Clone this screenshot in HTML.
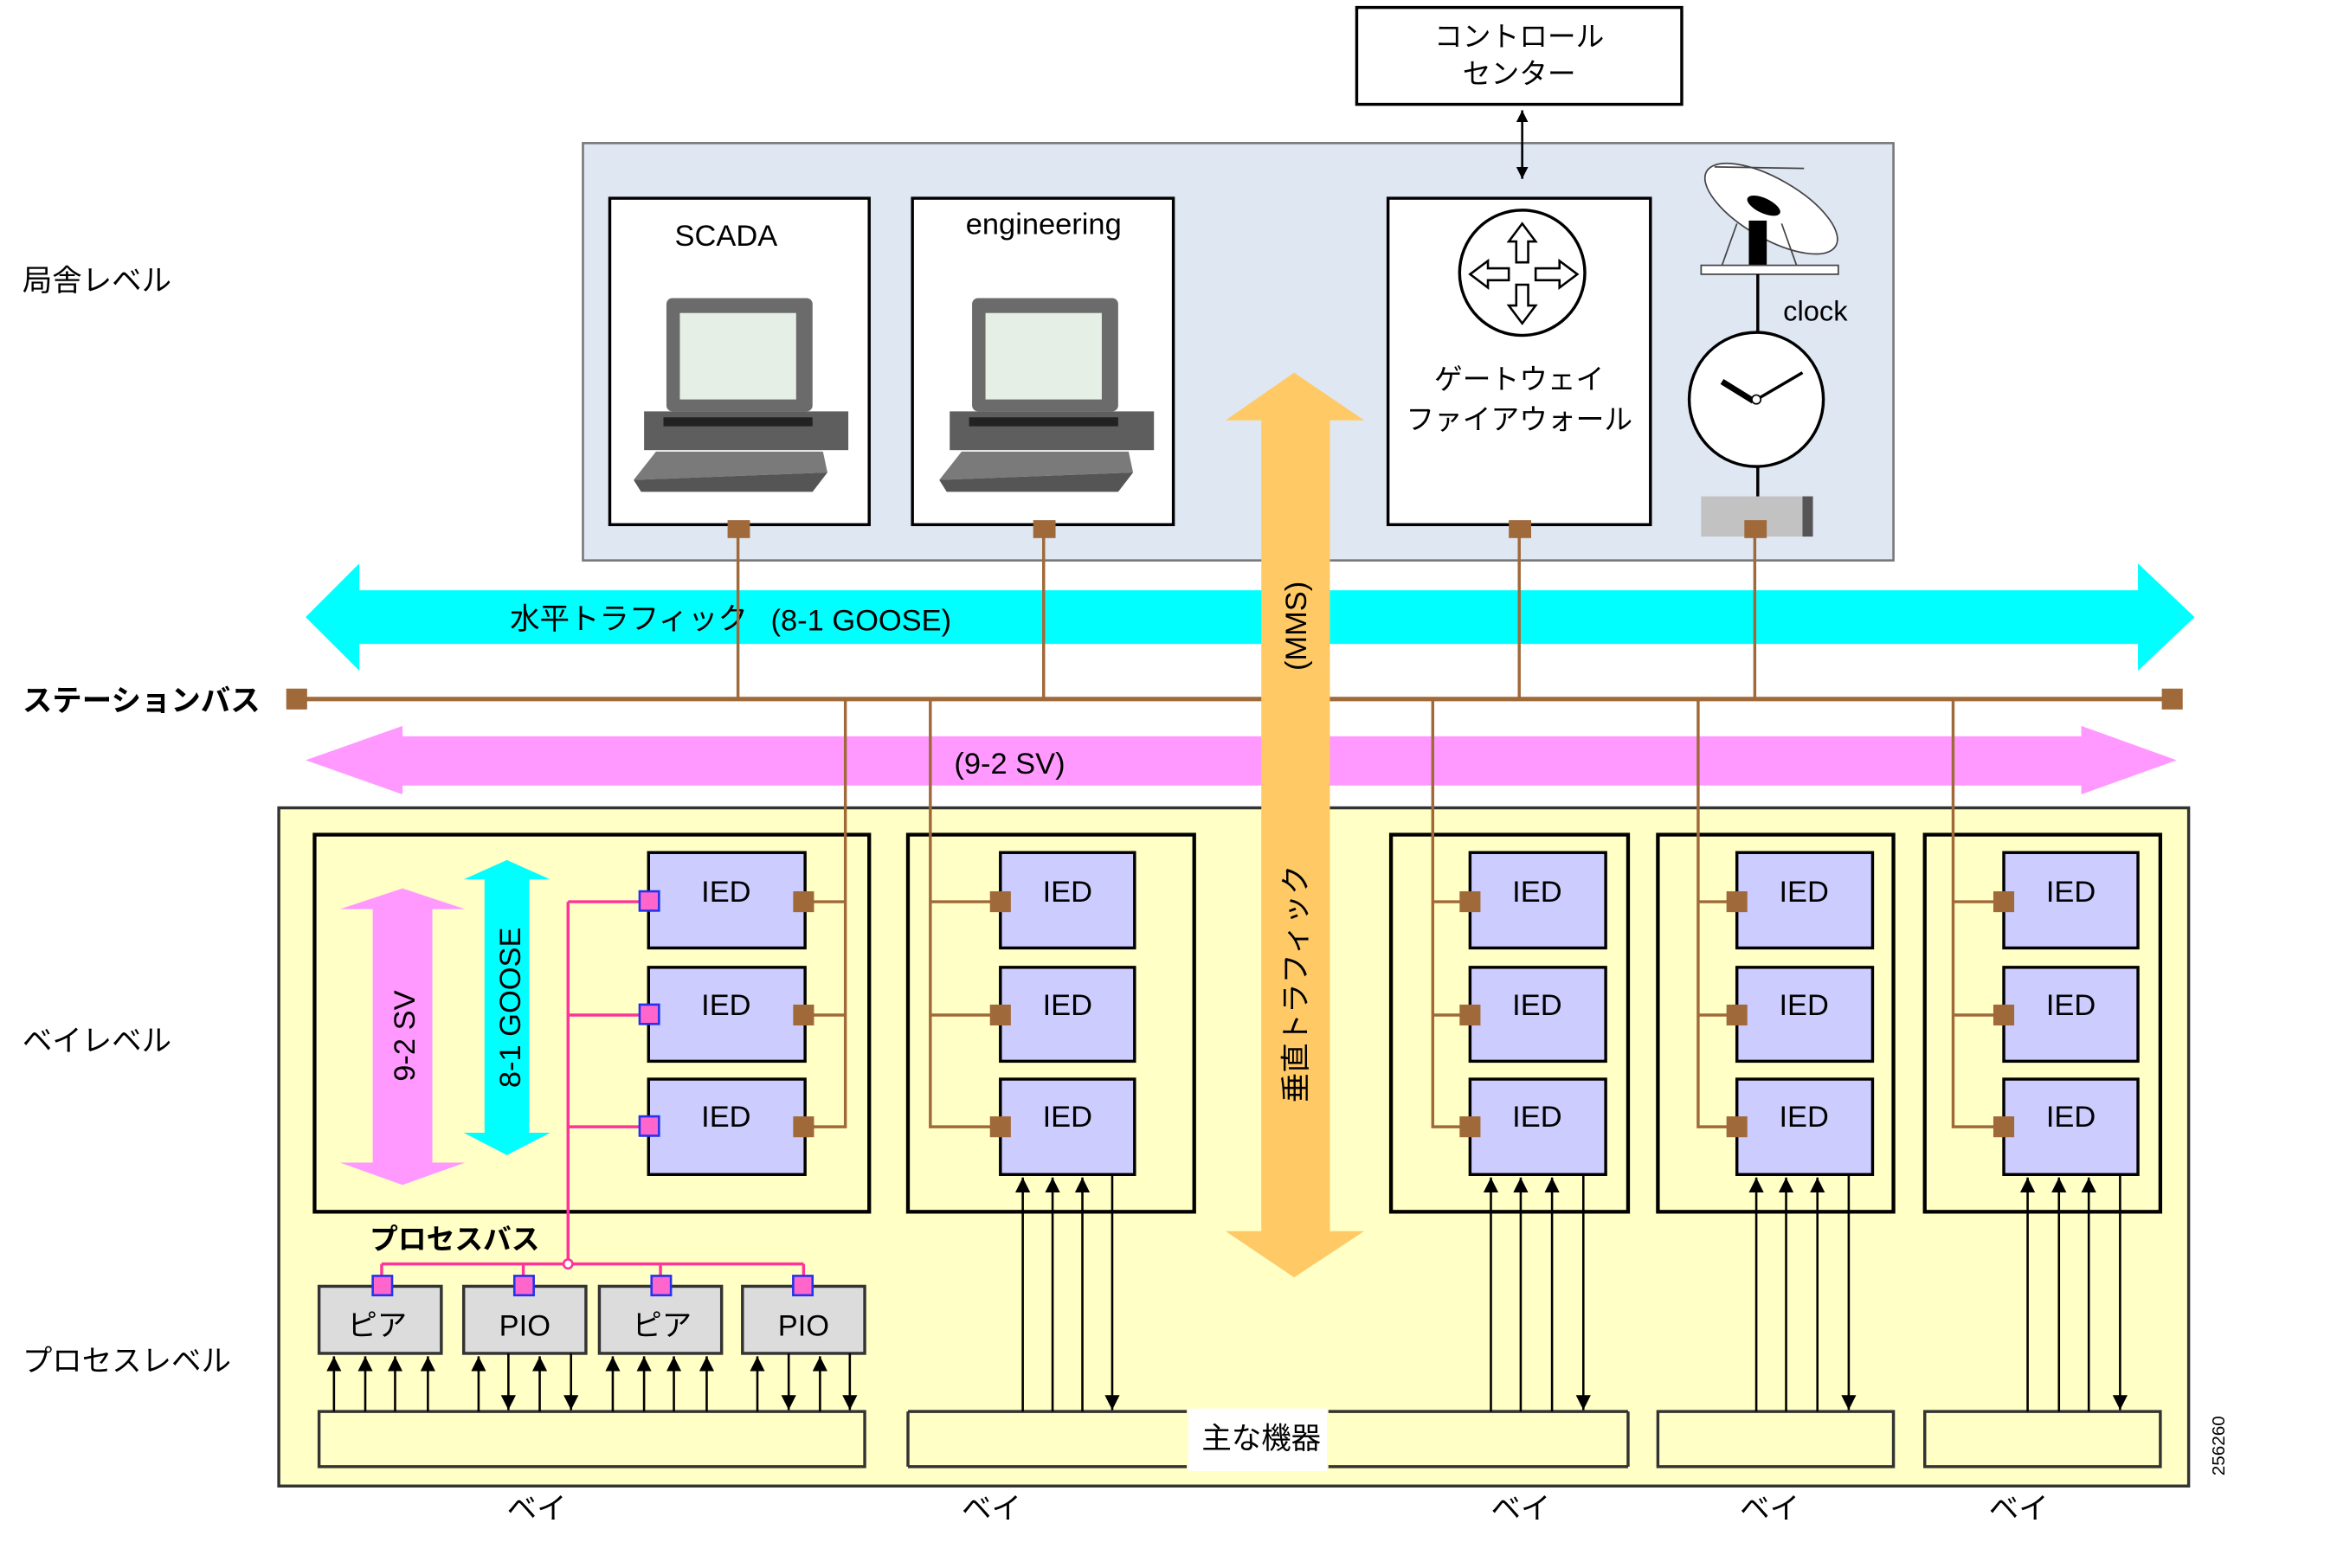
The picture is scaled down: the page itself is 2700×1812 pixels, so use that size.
<!DOCTYPE html>
<html><head><meta charset="utf-8"><style>
html,body{margin:0;padding:0;background:#fff;}
svg{display:block;}
text{font-family:"Liberation Sans","Noto Sans CJK JP",sans-serif;}
</style></head><body>
<svg width="2700" height="1812" viewBox="0 0 1567.5 1052" preserveAspectRatio="none" xmlns="http://www.w3.org/2000/svg">
<defs>
<marker id="ah" viewBox="0 0 10 10" refX="10" refY="5" markerWidth="8" markerHeight="8" markerUnits="userSpaceOnUse" orient="auto"><path d="M0,0 L10,5 L0,10 z" fill="#000"/></marker>
<marker id="ah2" viewBox="0 0 10 10" refX="10" refY="5" markerWidth="10" markerHeight="12" markerUnits="userSpaceOnUse" orient="auto"><path d="M0,0 L10,5 L0,10 z" fill="#000"/></marker>
</defs>
<rect width="1567.5" height="1052" fill="#fff"/>

<!-- control center -->
<rect x="910" y="5" width="218" height="65" fill="#fff" stroke="#000" stroke-width="2"/>
<text x="1019" y="31" font-size="19" text-anchor="middle">コントロール</text>
<text x="1019" y="56" font-size="19" text-anchor="middle">センター</text>

<!-- station box -->
<rect x="391" y="96" width="879" height="280" fill="#dfe7f3" stroke="#777" stroke-width="1.5"/>
<line x1="1021" y1="95" x2="1021" y2="74" stroke="#000" stroke-width="1.5" marker-end="url(#ah)"/>
<line x1="1021" y1="95" x2="1021" y2="120" stroke="#000" stroke-width="1.5" marker-end="url(#ah)"/>
<rect x="409" y="133" width="174" height="219" fill="#fff" stroke="#000" stroke-width="2"/>
<rect x="612" y="133" width="175" height="219" fill="#fff" stroke="#000" stroke-width="2"/>
<rect x="931" y="133" width="176" height="219" fill="#fff" stroke="#000" stroke-width="2"/>
<text x="487" y="165" font-size="20" text-anchor="middle">SCADA</text>
<text x="700" y="157" font-size="20" text-anchor="middle">engineering</text>

<!-- computers -->
<g>
<rect x="447" y="200" width="98" height="76" rx="4" fill="#6b6b6b"/>
<rect x="456" y="210" width="78" height="58" fill="#e6efe6"/>
<rect x="432" y="276" width="137" height="26" fill="#5e5e5e"/>
<rect x="445" y="280" width="100" height="6" fill="#222"/>
<polygon points="440,303 552,303 555,317 425,322" fill="#7a7a7a"/>
<polygon points="425,322 555,317 545,330 430,330" fill="#555"/>
</g>
<g transform="translate(205,0)">
<rect x="447" y="200" width="98" height="76" rx="4" fill="#6b6b6b"/>
<rect x="456" y="210" width="78" height="58" fill="#e6efe6"/>
<rect x="432" y="276" width="137" height="26" fill="#5e5e5e"/>
<rect x="445" y="280" width="100" height="6" fill="#222"/>
<polygon points="440,303 552,303 555,317 425,322" fill="#7a7a7a"/>
<polygon points="425,322 555,317 545,330 430,330" fill="#555"/>
</g>

<!-- router -->
<circle cx="1021" cy="183" r="42" fill="#fff" stroke="#000" stroke-width="2"/>
<g fill="#fff" stroke="#000" stroke-width="1.5">
<polygon points="1021,150 1030,162 1025,162 1025,176 1017,176 1017,162 1012,162"/>
<polygon points="1021,217 1030,205 1025,205 1025,191 1017,191 1017,205 1012,205"/>
<polygon points="986,184 998,175 998,180 1012,180 1012,188 998,188 998,193"/>
<polygon points="1058,184 1046,175 1046,180 1030,180 1030,188 1046,188 1046,193"/>
</g>
<text x="1019" y="261" font-size="19" text-anchor="middle">ゲートウェイ</text>
<text x="1019" y="288" font-size="19" text-anchor="middle">ファイアウォール</text>

<!-- satellite & clock -->
<g stroke="#444" stroke-width="1" fill="none">
<ellipse cx="1188" cy="140" rx="50" ry="20" transform="rotate(30 1188 140)" fill="#fff"/>
<line x1="1150" y1="112" x2="1210" y2="113"/>
<line x1="1165" y1="150" x2="1155" y2="178"/>
<line x1="1195" y1="150" x2="1205" y2="178"/>
</g>
<ellipse cx="1183" cy="138" rx="12" ry="5" transform="rotate(25 1183 138)" fill="#000"/>
<rect x="1173" y="148" width="12" height="30" fill="#000"/>
<rect x="1141" y="178" width="92" height="6" fill="#fff" stroke="#444"/>
<line x1="1179" y1="184" x2="1179" y2="334" stroke="#000" stroke-width="2"/>
<text x="1196" y="215" font-size="19">clock</text>
<circle cx="1178" cy="268" r="45" fill="#fff" stroke="#000" stroke-width="2"/>
<line x1="1155" y1="256" x2="1176" y2="269" stroke="#000" stroke-width="4"/>
<line x1="1180" y1="267" x2="1209" y2="250" stroke="#000" stroke-width="2"/>
<circle cx="1178" cy="268" r="3" fill="#fff" stroke="#000"/>
<rect x="1141" y="333" width="70" height="27" fill="#c2c2c2"/>
<rect x="1209" y="333" width="7" height="27" fill="#555"/>

<!-- cyan arrow -->
<polygon points="205,414 241,378 241,396 1434,396 1434,378 1472,414 1434,450 1434,432 241,432 241,450" fill="#00ffff"/>
<text x="342" y="422" font-size="20">水平トラフィック</text>
<text x="517" y="423" font-size="20">(8-1 GOOSE)</text>

<!-- pink arrow -->
<polygon points="205,510 270,487 270,494 1396,494 1396,487 1460,510 1396,533 1396,527 270,527 270,533" fill="#ff99ff"/>
<text x="640" y="519" font-size="20">(9-2 SV)</text>

<!-- yellow lower box -->
<rect x="187" y="542" width="1281" height="455" fill="#ffffc6" stroke="#333" stroke-width="2"/>

<g stroke="#a0693a" stroke-width="2" fill="none">
<line x1="495" y1="355" x2="495" y2="469"/>
<line x1="700" y1="355" x2="700" y2="469"/>
<line x1="1019" y1="355" x2="1019" y2="469"/>
<line x1="1177" y1="355" x2="1177" y2="469"/>
</g>
<g fill="#a0693a">
<rect x="488" y="349" width="15" height="12"/>
<rect x="693" y="349" width="15" height="12"/>
<rect x="1012" y="349" width="15" height="12"/>
<rect x="1170" y="349" width="15" height="12"/>
</g>

<!-- bays -->
<g fill="#ffffc6" stroke="#000" stroke-width="2.5">
<rect x="211" y="560" width="372" height="253"/>
<rect x="609" y="560" width="192" height="253"/>
<rect x="933" y="560" width="159" height="253"/>
<rect x="1112" y="560" width="158" height="253"/>
<rect x="1291" y="560" width="158" height="253"/>
</g>

<polygon points="270,596 312,610 290,610 290,780 312,780 270,795 228,780 250,780 250,610 228,610" fill="#ff99ff"/>
<polygon points="340,577 369,590 355,590 355,760 369,760 340,775 311,760 325,760 325,590 311,590" fill="#00ffff"/>
<text transform="translate(278,695) rotate(-90)" font-size="20" text-anchor="middle">9-2 SV</text>
<text transform="translate(349,676) rotate(-90)" font-size="20" text-anchor="middle">8-1 GOOSE</text>

<!-- IEDs -->
<g fill="#ccccff" stroke="#000" stroke-width="2">
<rect x="435" y="572" width="105" height="64"/><rect x="435" y="649" width="105" height="63"/><rect x="435" y="724" width="105" height="64"/>
<rect x="671" y="572" width="90" height="64"/><rect x="671" y="649" width="90" height="63"/><rect x="671" y="724" width="90" height="64"/>
<rect x="986" y="572" width="91" height="64"/><rect x="986" y="649" width="91" height="63"/><rect x="986" y="724" width="91" height="64"/>
<rect x="1165" y="572" width="91" height="64"/><rect x="1165" y="649" width="91" height="63"/><rect x="1165" y="724" width="91" height="64"/>
<rect x="1344" y="572" width="90" height="64"/><rect x="1344" y="649" width="90" height="63"/><rect x="1344" y="724" width="90" height="64"/>
</g>
<g font-size="20" text-anchor="middle">
<text x="487" y="605">IED</text><text x="487" y="681">IED</text><text x="487" y="756">IED</text>
<text x="716" y="605">IED</text><text x="716" y="681">IED</text><text x="716" y="756">IED</text>
<text x="1031" y="605">IED</text><text x="1031" y="681">IED</text><text x="1031" y="756">IED</text>
<text x="1210" y="605">IED</text><text x="1210" y="681">IED</text><text x="1210" y="756">IED</text>
<text x="1389" y="605">IED</text><text x="1389" y="681">IED</text><text x="1389" y="756">IED</text>
</g>

<g stroke="#a0693a" stroke-width="2" fill="none">
<polyline points="567,469 567,756 540,756"/><line x1="540" y1="605" x2="567" y2="605"/><line x1="540" y1="681" x2="567" y2="681"/>
<polyline points="624,469 624,756 671,756"/><line x1="624" y1="605" x2="671" y2="605"/><line x1="624" y1="681" x2="671" y2="681"/>
<polyline points="961,469 961,756 986,756"/><line x1="961" y1="605" x2="986" y2="605"/><line x1="961" y1="681" x2="986" y2="681"/>
<polyline points="1139,469 1139,756 1165,756"/><line x1="1139" y1="605" x2="1165" y2="605"/><line x1="1139" y1="681" x2="1165" y2="681"/>
<polyline points="1310,469 1310,756 1344,756"/><line x1="1310" y1="605" x2="1344" y2="605"/><line x1="1310" y1="681" x2="1344" y2="681"/>
</g>
<g fill="#a0693a">
<rect x="532" y="598" width="14" height="14"/><rect x="532" y="674" width="14" height="14"/><rect x="532" y="749" width="14" height="14"/>
<rect x="664" y="598" width="14" height="14"/><rect x="664" y="674" width="14" height="14"/><rect x="664" y="749" width="14" height="14"/>
<rect x="979" y="598" width="14" height="14"/><rect x="979" y="674" width="14" height="14"/><rect x="979" y="749" width="14" height="14"/>
<rect x="1158" y="598" width="14" height="14"/><rect x="1158" y="674" width="14" height="14"/><rect x="1158" y="749" width="14" height="14"/>
<rect x="1337" y="598" width="14" height="14"/><rect x="1337" y="674" width="14" height="14"/><rect x="1337" y="749" width="14" height="14"/>
</g>

<line x1="199" y1="469" x2="1457" y2="469" stroke="#a0693a" stroke-width="3"/>
<rect x="192" y="462" width="14" height="14" fill="#a0693a"/>
<rect x="1450" y="462" width="14" height="14" fill="#a0693a"/>

<polygon points="868,250 915,282 892,282 892,826 915,826 868,857 822,826 846,826 846,282 822,282" fill="#ffc966"/>
<text transform="translate(876,420) rotate(-90)" font-size="20" text-anchor="middle">(MMS)</text>
<text transform="translate(876,660) rotate(-90)" font-size="20" text-anchor="middle">垂直トラフィック</text>

<g stroke="#ff3399" stroke-width="2" fill="none">
<line x1="381" y1="605" x2="381" y2="848"/>
<line x1="381" y1="605" x2="435" y2="605"/><line x1="381" y1="681" x2="435" y2="681"/><line x1="381" y1="756" x2="435" y2="756"/>
<line x1="256" y1="848" x2="539" y2="848"/>
<line x1="256" y1="848" x2="256" y2="858"/><line x1="351" y1="848" x2="351" y2="858"/><line x1="443" y1="848" x2="443" y2="858"/><line x1="539" y1="848" x2="539" y2="858"/>
</g>
<circle cx="381" cy="848" r="3" fill="#fff" stroke="#ff3399" stroke-width="1.5"/>
<text x="248" y="838" font-size="19" font-weight="bold">プロセスバス</text>

<g fill="#dcdcdc" stroke="#333" stroke-width="2">
<rect x="214" y="863" width="82" height="45"/><rect x="311" y="863" width="82" height="45"/>
<rect x="402" y="863" width="82" height="45"/><rect x="498" y="863" width="82" height="45"/>
</g>
<g font-size="20" text-anchor="middle">
<text x="253" y="896">ピア</text><text x="352" y="896">PIO</text><text x="444" y="896">ピア</text><text x="539" y="896">PIO</text>
</g>
<g fill="#ff66cc" stroke="#2233ee" stroke-width="1.5">
<rect x="429" y="598" width="13" height="13"/><rect x="429" y="674" width="13" height="13"/><rect x="429" y="749" width="13" height="13"/>
<rect x="250" y="856" width="13" height="13"/><rect x="345" y="856" width="13" height="13"/><rect x="437" y="856" width="13" height="13"/><rect x="532" y="856" width="13" height="13"/>
</g>

<g fill="#ffffc6" stroke="#333" stroke-width="2">
<rect x="214" y="947" width="366" height="37"/>
<rect x="1112" y="947" width="158" height="37"/>
<rect x="1291" y="947" width="158" height="37"/>
</g>
<rect x="609" y="947" width="483" height="37" fill="#ffffc6"/>
<g stroke="#333" stroke-width="2">
<line x1="609" y1="947" x2="796" y2="947"/><line x1="609" y1="984" x2="796" y2="984"/><line x1="609" y1="947" x2="609" y2="984"/>
<line x1="891" y1="947" x2="1092" y2="947"/><line x1="891" y1="984" x2="1092" y2="984"/><line x1="1092" y1="947" x2="1092" y2="984"/>
</g>
<rect x="797" y="945" width="93" height="42" fill="#fff"/>
<text x="846" y="972" font-size="20" text-anchor="middle">主な機器</text>

<g stroke="#000" stroke-width="1.5">
<line x1="224" y1="947" x2="224" y2="910" marker-end="url(#ah2)"/>
<line x1="245" y1="947" x2="245" y2="910" marker-end="url(#ah2)"/>
<line x1="265" y1="947" x2="265" y2="910" marker-end="url(#ah2)"/>
<line x1="287" y1="947" x2="287" y2="910" marker-end="url(#ah2)"/>
<line x1="321" y1="947" x2="321" y2="910" marker-end="url(#ah2)"/>
<line x1="341" y1="908" x2="341" y2="946" marker-end="url(#ah2)"/>
<line x1="362" y1="947" x2="362" y2="910" marker-end="url(#ah2)"/>
<line x1="383" y1="908" x2="383" y2="946" marker-end="url(#ah2)"/>
<line x1="411" y1="947" x2="411" y2="910" marker-end="url(#ah2)"/>
<line x1="432" y1="947" x2="432" y2="910" marker-end="url(#ah2)"/>
<line x1="452" y1="947" x2="452" y2="910" marker-end="url(#ah2)"/>
<line x1="474" y1="947" x2="474" y2="910" marker-end="url(#ah2)"/>
<line x1="508" y1="947" x2="508" y2="910" marker-end="url(#ah2)"/>
<line x1="529" y1="908" x2="529" y2="946" marker-end="url(#ah2)"/>
<line x1="550" y1="947" x2="550" y2="910" marker-end="url(#ah2)"/>
<line x1="570" y1="908" x2="570" y2="946" marker-end="url(#ah2)"/>

<line x1="686" y1="947" x2="686" y2="790" marker-end="url(#ah2)"/>
<line x1="706" y1="947" x2="706" y2="790" marker-end="url(#ah2)"/>
<line x1="726" y1="947" x2="726" y2="790" marker-end="url(#ah2)"/>
<line x1="746" y1="788" x2="746" y2="946" marker-end="url(#ah2)"/>

<line x1="1000" y1="947" x2="1000" y2="790" marker-end="url(#ah2)"/>
<line x1="1020" y1="947" x2="1020" y2="790" marker-end="url(#ah2)"/>
<line x1="1041" y1="947" x2="1041" y2="790" marker-end="url(#ah2)"/>
<line x1="1062" y1="788" x2="1062" y2="946" marker-end="url(#ah2)"/>

<line x1="1178" y1="947" x2="1178" y2="790" marker-end="url(#ah2)"/>
<line x1="1198" y1="947" x2="1198" y2="790" marker-end="url(#ah2)"/>
<line x1="1219" y1="947" x2="1219" y2="790" marker-end="url(#ah2)"/>
<line x1="1240" y1="788" x2="1240" y2="946" marker-end="url(#ah2)"/>

<line x1="1360" y1="947" x2="1360" y2="790" marker-end="url(#ah2)"/>
<line x1="1381" y1="947" x2="1381" y2="790" marker-end="url(#ah2)"/>
<line x1="1401" y1="947" x2="1401" y2="790" marker-end="url(#ah2)"/>
<line x1="1422" y1="788" x2="1422" y2="946" marker-end="url(#ah2)"/>
</g>

<g font-size="20">
<text x="15" y="195">局舎レベル</text>
<text x="15" y="477" font-weight="bold">ステーションバス</text>
<text x="15" y="705">ベイレベル</text>
<text x="15" y="920">プロセスレベル</text>
</g>
<g font-size="20" text-anchor="middle">
<text x="360" y="1019">ベイ</text><text x="665" y="1019">ベイ</text><text x="1020" y="1019">ベイ</text><text x="1187" y="1019">ベイ</text><text x="1354" y="1019">ベイ</text>
</g>
<text transform="translate(1492,970) rotate(-90)" font-size="12" text-anchor="middle">256260</text>
</svg>
</body></html>
